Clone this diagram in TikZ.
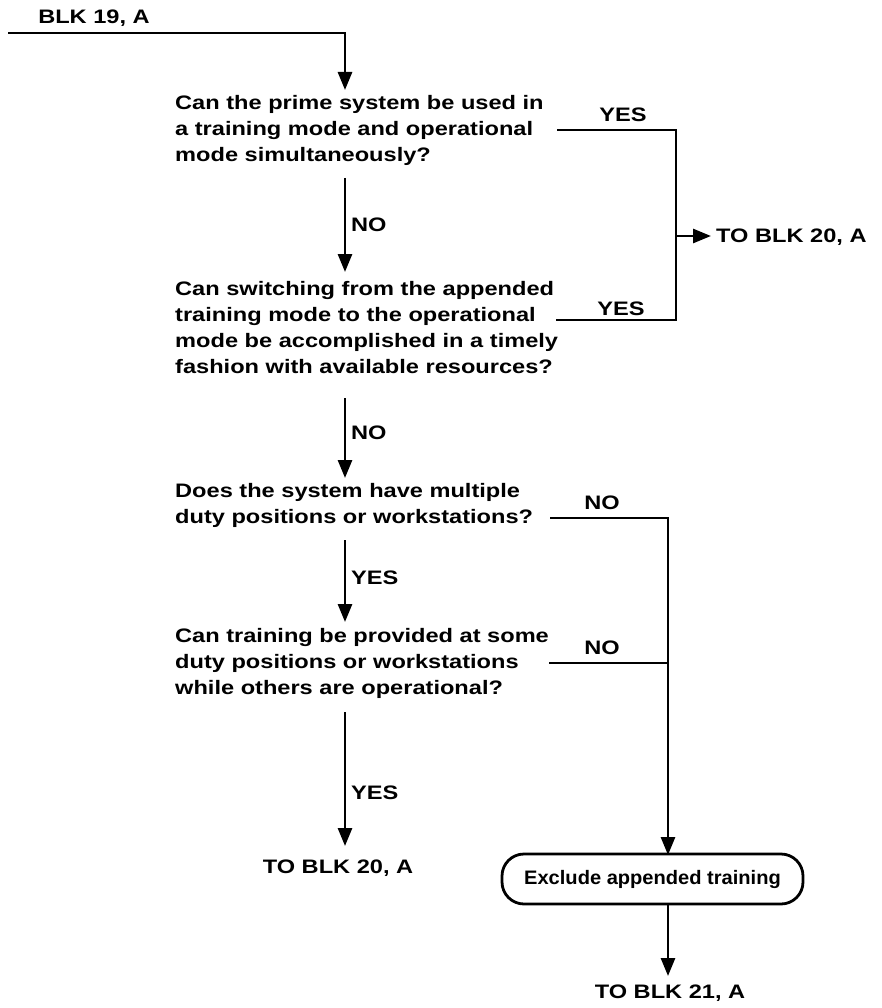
\documentclass[tikz,border=0pt]{standalone}
\usepackage{fontspec}
\setmainfont{Liberation Sans}[FakeStretch=1.21]
\newfontfamily\boxfont{Liberation Sans}[FakeStretch=1.03]
\usetikzlibrary{arrows.meta}
\begin{document}
\begin{tikzpicture}[x=1pt,y=-1pt,
  every node/.style={font=\bfseries\fontsize{19.5}{26}\selectfont, inner sep=0pt},
  question/.style={anchor=west, align=left},
  tag/.style={anchor=west},
  flow/.style={line width=2.8pt},
  arr/.style={flow, -{Triangle[width=14pt,length=18pt]}},
  endbox/.style={draw, line width=2.8pt, rounded corners=22pt,
                 minimum width=301pt, minimum height=50pt,
                 font=\boxfont\bfseries\fontsize{19.5}{26}\selectfont}]
\useasboundingbox (0,0) rectangle (882,1008);

% questions
\node[question] (q1) at (175,130) {Can the prime system be used in\\a training mode and operational\\mode simultaneously?};
\node[question] (q2) at (175,328) {Can switching from the appended\\training mode to the operational\\mode be accomplished in a timely\\fashion with available resources?};
\node[question] (q3) at (175,505) {Does the system have multiple\\duty positions or workstations?};
\node[question] (q4) at (175,663) {Can training be provided at some\\duty positions or workstations\\while others are operational?};

% terminals and connector labels
\node (in)  at (94,18) {BLK 19, A};
\node[anchor=west] (out20a) at (716,237) {TO BLK 20, A};
\node (out20b) at (338,868) {TO BLK 20, A};
\node (out21) at (670,993) {TO BLK 21, A};
\node[endbox] (ex) at (652.5,879) {Exclude appended training};

\node (yes1) at (623,115) {YES};
\node (yes2) at (621,309) {YES};
\node[tag] (no1) at (351,225) {NO};
\node[tag] (no2) at (351,433) {NO};
\node (no3) at (602,503) {NO};
\node[tag] (yes3) at (351,578) {YES};
\node (no4) at (602,648) {NO};
\node[tag] (yes4) at (351,793) {YES};

% junction points
\coordinate (start) at (8,33);
\coordinate (s1) at (345,33);
\coordinate (t1) at (345,90);
\coordinate (a1) at (345,178);
\coordinate (b1) at (345,272);
\coordinate (a2) at (345,398);
\coordinate (b2) at (345,478);
\coordinate (a3) at (345,540);
\coordinate (b3) at (345,622);
\coordinate (a4) at (345,712);
\coordinate (b4) at (345,846);
\coordinate (y1) at (557,130);
\coordinate (y1c) at (676,130);
\coordinate (y2) at (556,320);
\coordinate (y2c) at (676,320);
\coordinate (ym) at (676,236);
\coordinate (ymt) at (711,236);
\coordinate (n3) at (550,518);
\coordinate (n3c) at (668,518);
\coordinate (n4) at (549,663);
\coordinate (n4c) at (668,663);
\coordinate (exin) at (668,855);
\coordinate (exout) at (668,904);
\coordinate (t21) at (668,976);

% connectors
\draw[arr] (start) -- (s1) -- (t1);
\draw[arr] (a1) -- (b1);
\draw[arr] (a2) -- (b2);
\draw[arr] (a3) -- (b3);
\draw[arr] (a4) -- (b4);
\draw[flow] (y1) -- (y1c) -- (y2c) -- (y2);
\draw[arr] (ym) -- (ymt);
\draw[flow] (n4) -- (n4c);
\draw[arr] (n3) -- (n3c) -- (exin);
\draw[arr] (exout) -- (t21);
\end{tikzpicture}
\end{document}
